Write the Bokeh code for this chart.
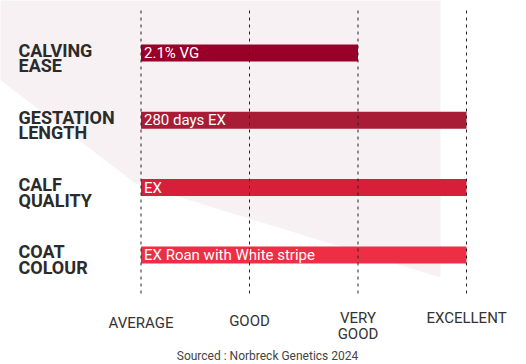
from bokeh.plotting import figure
from bokeh.models import Range1d, ColumnDataSource
from bokeh.core.properties import value
from bokeh.embed import file_html
from bokeh.resources import INLINE

# ---- data ----
trait_line1 = ["CALVING", "GESTATION", "CALF", "COAT"]
trait_line2 = ["EASE", "LENGTH", "QUALITY", "COLOUR"]
scores = [2, 3, 3, 3]          # 0=AVERAGE, 1=GOOD, 2=VERY GOOD, 3=EXCELLENT
bar_labels = ["2.1% VG", "280 days EX", "EX", "EX Roan with White stripe"]
bar_colors = ["#990029", "#a81d35", "#d71f3a", "#ee2e44"]
level_values = [0, 1, 2, 3]
level_line1 = ["AVERAGE", "GOOD", "VERY", "EXCELLENT"]
level_line2 = ["", "", "GOOD", ""]
source_note = "Sourced : Norbreck Genetics 2024"

rows = list(range(len(trait_line1)))

W, H = 510, 364
OFF = 0  # image offset of the figure
# pixel layout helpers (image px -> data), for layout only
X0PX, XUNIT = 140.5, 108.5
Y0PX, YUNIT = 52.5, 67.3
def dx(px):
    return (px - X0PX) / XUNIT
def dy(py):
    return (py - Y0PX) / YUNIT

p = figure(width=W, height=H, output_backend="svg", toolbar_location=None,
           x_range=Range1d(dx(OFF), dx(OFF + W)), y_range=Range1d(dy(OFF + H), dy(OFF)),
           min_border=0, outline_line_color=None, background_fill_color="white",
           border_fill_color="white")
p.axis.visible = False
p.grid.visible = False

# background decorative shape
bx = [dx(v) for v in [-10, 440, 440, 135, -10]]
by = [dy(v) for v in [-10, -10, 277, 183, 72]]
p.patch(bx, by, fill_color="#f7f1f4", line_color=None)

# bars
src = ColumnDataSource(dict(y=rows, right=scores, color=bar_colors, label=bar_labels,
                            l1=trait_line1, l2=trait_line2))
p.hbar(y="y", left=0, right="right", height=17 / YUNIT, fill_color="color",
       line_color=None, source=src)

# dashed level lines
p.segment(x0=level_values, x1=level_values, y0=[dy(10)] * 4, y1=[dy(295)] * 4,
          line_color="#222222", line_width=1, line_dash="3 4")

# bar value labels
p.text(x=0, y="y", text="label", source=src, x_offset=3, text_baseline="middle",
       text_align="left", text_color="white", text_font=value("Roboto"),
       text_font_size="15px")

# trait labels (two lines)
p.text(x=dx(18), y="y", text="l1", source=src, y_offset=-3, text_baseline="middle",
       text_align="left", text_color="#2b2b2b", text_font=value("Roboto"),
       text_font_size="18px", text_font_style="bold")
p.text(x=dx(18), y="y", text="l2", source=src, y_offset=12.5, text_baseline="middle",
       text_align="left", text_color="#2b2b2b", text_font=value("Roboto"),
       text_font_size="18px", text_font_style="bold")

# level labels
lvl_y1 = [dy(v) for v in [322, 320, 317, 317]]
lvl_y2 = [dy(v) for v in [322, 320, 333, 317]]
p.text(x=level_values, y=lvl_y1, text=level_line1, text_baseline="middle",
       text_align="center", text_color="#333333", text_font=value("Roboto"),
       text_font_size="15px")
p.text(x=level_values, y=lvl_y2, text=level_line2, text_baseline="middle",
       text_align="center", text_color="#333333", text_font=value("Roboto"),
       text_font_size="15px")

# source note
p.text(x=[dx(267)], y=[dy(355)], text=[source_note], text_baseline="middle",
       text_align="center", text_color="#444444", text_font=value("Roboto"),
       text_font_size="12px")

open("out.html", "w").write(file_html(p, INLINE))
